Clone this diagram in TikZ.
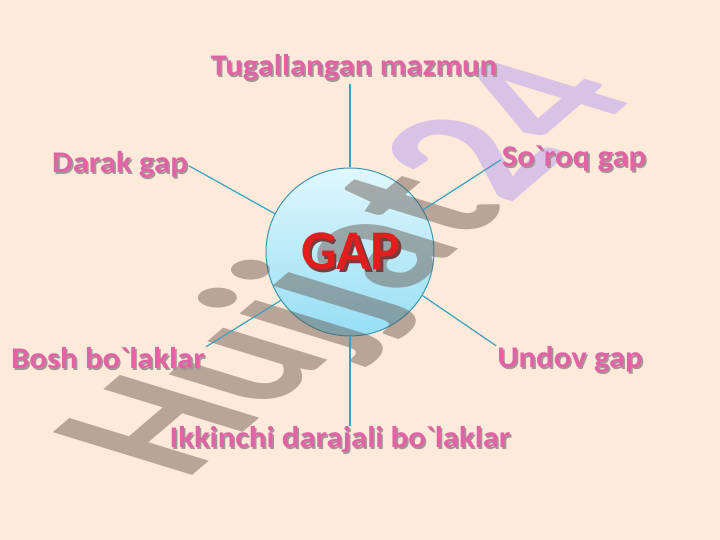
\documentclass[tikz,border=0pt]{standalone}
\usepackage{fontspec}
\setmainfont{Carlito}
\newfontfamily\labfont{Carlito}[FakeStretch=1.09]
\definecolor{bgpeach}{RGB}{253,234,218}
\definecolor{labpink}{RGB}{226,98,166}
\definecolor{shadowgray}{RGB}{165,150,150}
\definecolor{linecol}{RGB}{60,160,190}
\definecolor{circtop}{RGB}{224,247,253}
\definecolor{circbot}{RGB}{150,222,245}
\definecolor{circline}{RGB}{60,150,175}
\definecolor{gapred}{RGB}{225,30,30}
\definecolor{gapshadow}{RGB}{120,60,60}
\definecolor{wmgray}{RGB}{100,82,70}
\definecolor{wmpurple}{RGB}{173,146,246}
\newcommand{\shd}[1]{\rlap{\kern1.6pt\raisebox{-1.6pt}{\textcolor{shadowgray}{#1}}}#1}
\newcommand{\gshd}[1]{\rlap{\kern2.5pt\raisebox{-2.5pt}{\textcolor{gapshadow}{#1}}}#1}
\tikzset{
  lab/.style={font=\labfont\bfseries\fontsize{30}{36}\selectfont, text=labpink, inner sep=1pt, anchor=base},
  conn/.style={draw=linecol, line width=1.2pt},
  hub/.style={circle, minimum size=168, inner sep=0pt, draw=circline, line width=1pt, top color=circtop, bottom color=circbot}
}
\begin{document}
\begin{tikzpicture}[x=1pt,y=1pt]
\fill[bgpeach] (0,0) rectangle (720,540);
\useasboundingbox (0,0) rectangle (720,540);
% central circle
\node[hub] (gap) at (350,288) {};
% watermark
\begin{scope}[shift={(185,58)}, cm={1.29,1.10,-2.15,0.66,(0,0)}]
  \node[transform shape, anchor=base west, inner sep=0pt, text opacity=0.45,
        font=\bfseries\fontsize{100}{100}\selectfont] (wm) at (0,0)
        {\textcolor{wmgray}{Hujjat}\textcolor{wmpurple}{24}};
\end{scope}
% labels
\node[lab] (tug)   at (354,464) {\shd{Tugallangan mazmun}};
\node[lab] (darak) at (120,367) {\shd{Darak gap}};
\node[lab] (soroq) at (574,373) {\shd{So\textasciigrave roq gap}};
\node[lab] (bosh)  at (108,171) {\shd{Bosh bo\textasciigrave laklar}};
\node[lab] (undov) at (570,172) {\shd{Undov gap}};
\node[lab] (ikk)   at (340,92)  {\shd{Ikkinchi darajali bo\textasciigrave laklar}};
% connectors
\draw[conn] (gap.north) -- (gap.north |- tug.south);
\draw[conn] (gap.153) -- (darak.east);
\draw[conn] (gap.30) -- (soroq.west);
\draw[conn] (gap.215) -- (bosh.north east);
\draw[conn] (gap.-31) -- (undov.north west);
\draw[conn] (gap.south) -- (gap.south |- ikk.north);
% centre text
\node[font=\bfseries\fontsize{56}{60}\selectfont, text=gapred, anchor=base, inner sep=0pt] (gaptxt) at (351,270) {\gshd{GAP}};
\end{tikzpicture}
\end{document}
